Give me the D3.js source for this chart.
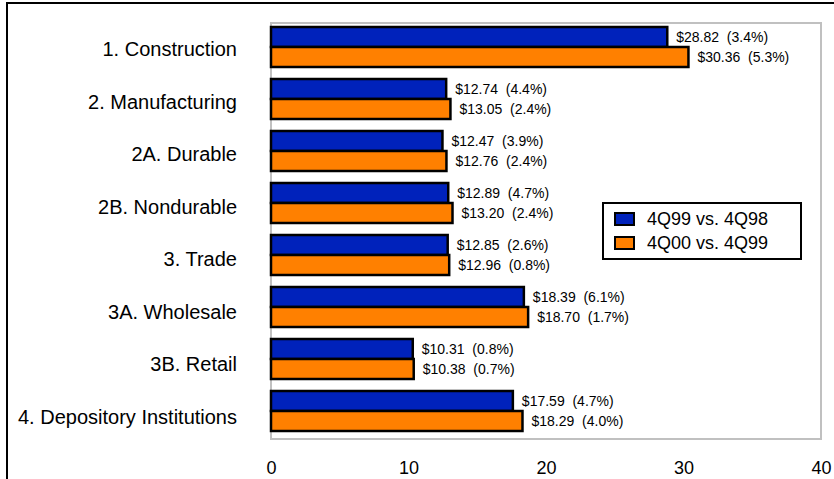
<!DOCTYPE html>
<html>
<head>
<meta charset="utf-8">
<script src="https://cdn.jsdelivr.net/npm/d3@7"></script>
<style>
  body { margin: 0; background: #fff; }
  svg { display: block; font-family: "Liberation Sans", Arial, sans-serif; }
</style>
</head>
<body>
<div id="chart"></div>
<script>
const categories = ["1. Construction", "2. Manufacturing", "2A. Durable", "2B. Nondurable",
  "3. Trade", "3A. Wholesale", "3B. Retail", "4. Depository Institutions"];
const seriesNames = ["4Q99 vs. 4Q98", "4Q00 vs. 4Q99"];
const wages99 = [28.82, 12.74, 12.47, 12.89, 12.85, 18.39, 10.31, 17.59];
const growth99 = ["3.4%", "4.4%", "3.9%", "4.7%", "2.6%", "6.1%", "0.8%", "4.7%"];
const wages00 = [30.36, 13.05, 12.76, 13.20, 12.96, 18.70, 10.38, 18.29];
const growth00 = ["5.3%", "2.4%", "2.4%", "2.4%", "0.8%", "1.7%", "0.7%", "4.0%"];
const xTicks = [0, 10, 20, 30, 40];

const colors = ["#0022bb", "#ff8000"];

const w = 834, h = 479;
const plotLeft = 271, plotRight = 821, plotTop = 23, plotBottom = 439;

const svg = d3.select("#chart").append("svg")
  .attr("width", w)
  .attr("height", h);

// outer frame (runs off the right and bottom edge)
svg.append("rect")
  .attr("x", 7).attr("y", 3)
  .attr("width", 850).attr("height", 500)
  .attr("fill", "none")
  .attr("stroke", "#000")
  .attr("stroke-width", 2);

const xScale = d3.scaleLinear().domain([0, 40]).range([plotLeft, plotRight]);
const yScale = d3.scaleBand().domain(categories).range([plotTop, plotBottom]);
const subScale = d3.scaleBand().domain(seriesNames).range([4, 44]);
// category labels sit on a slightly wider spacing than the bars
const labelScale = d3.scaleBand().domain(categories).range([plotTop, plotBottom + 4]);

// plot area border
svg.append("rect")
  .attr("x", plotLeft).attr("y", plotTop)
  .attr("width", plotRight - plotLeft).attr("height", plotBottom - plotTop)
  .attr("fill", "none")
  .attr("stroke", "#c0c0c0")
  .attr("stroke-width", 2);

const rows = categories.map((c, i) => ({
  cat: c,
  vals: [
    { s: seriesNames[0], v: wages99[i], g: growth99[i], k: 0 },
    { s: seriesNames[1], v: wages00[i], g: growth00[i], k: 1 }
  ]
}));

const groups = svg.selectAll("g.row")
  .data(rows)
  .enter()
  .append("g")
  .attr("class", "row")
  .attr("transform", d => "translate(0," + yScale(d.cat) + ")");

groups.selectAll("rect")
  .data(d => d.vals)
  .enter()
  .append("rect")
  .attr("x", xScale(0))
  .attr("y", d => subScale(d.s))
  .attr("width", d => xScale(d.v) - xScale(0))
  .attr("height", subScale.bandwidth())
  .attr("fill", d => colors[d.k])
  .attr("stroke", "#000")
  .attr("stroke-width", 2.5);

groups.selectAll("text.val")
  .data(d => d.vals)
  .enter()
  .append("text")
  .attr("class", "val")
  .attr("x", d => xScale(d.v) + 9)
  .attr("y", d => subScale(d.s) + subScale.bandwidth() / 2)
  .attr("dy", "0.35em")
  .attr("font-size", 14)
  .attr("fill", "#000")
  .style("white-space", "pre")
  .text(d => "$" + d.v.toFixed(2) + "  (" + d.g + ")");

// category labels
svg.selectAll("text.cat")
  .data(categories)
  .enter()
  .append("text")
  .attr("class", "cat")
  .attr("x", 237)
  .attr("y", d => labelScale(d) + labelScale.bandwidth() / 2)
  .attr("dy", "0.35em")
  .attr("text-anchor", "end")
  .attr("font-size", 20)
  .text(d => d);

// x axis labels
const xAxis = d3.axisBottom(xScale).tickValues(xTicks).tickSize(0).tickPadding(22);
const gx = svg.append("g")
  .attr("transform", "translate(0," + plotBottom + ")")
  .call(xAxis);
gx.select(".domain").remove();
gx.selectAll("text")
  .attr("font-size", 18)
  .attr("font-family", "Liberation Sans, Arial, sans-serif")
  .attr("fill", "#000");

// legend
const legend = svg.append("g").attr("transform", "translate(603,203)");
legend.append("rect")
  .attr("width", 198).attr("height", 56)
  .attr("fill", "#fff")
  .attr("stroke", "#000")
  .attr("stroke-width", 2);
seriesNames.forEach((s, i) => {
  legend.append("rect")
    .attr("x", 12).attr("y", 10 + i * 24)
    .attr("width", 19).attr("height", 12)
    .attr("fill", colors[i])
    .attr("stroke", "#000")
    .attr("stroke-width", 2);
  legend.append("text")
    .attr("x", 44).attr("y", 16 + i * 24)
    .attr("dy", "0.35em")
    .attr("font-size", 18)
    .text(s);
});
</script>
</body>
</html>
